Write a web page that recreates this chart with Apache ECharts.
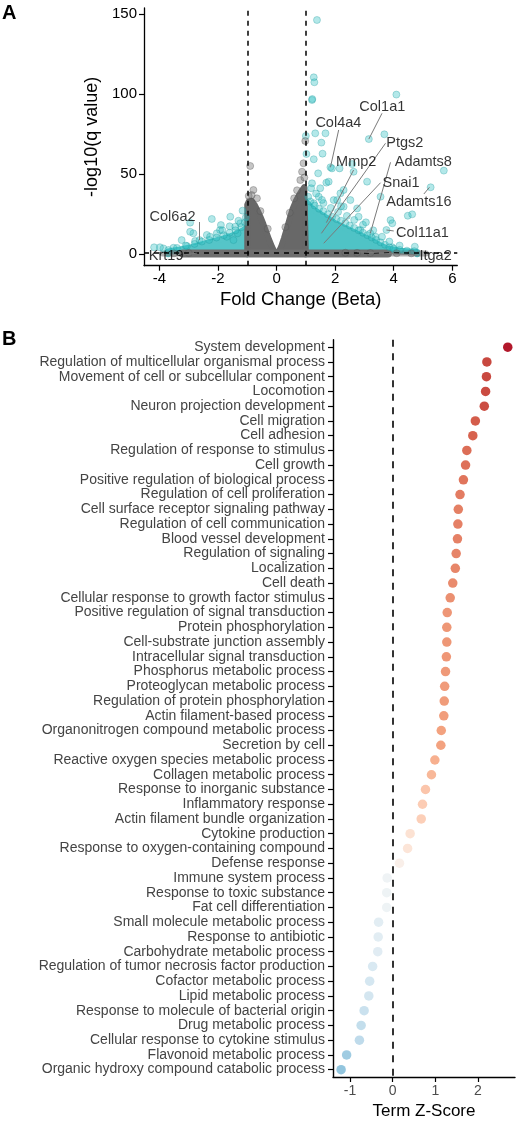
<!DOCTYPE html>
<html><head><meta charset="utf-8">
<script src="https://cdn.jsdelivr.net/npm/echarts@6/dist/echarts.min.js"></script>
<style>html,body{margin:0;padding:0;background:#fff}#c{width:518px;height:1125px}</style>
</head><body><div id="c"></div>
<script>
// ---------- Panel A : volcano ----------
const foldTicks = [-4, -2, 0, 2, 4, 6];
const qTicks = [0, 50, 100, 150];
const qThreshold = 1.3;
const foldThresholds = [-1, 1];

const cyanPoints = [
  [1.38,146.4],[1.27,110.6],[1.29,107.5],[1.21,96.4],[1.22,97.0],[4.09,99.8],[3.15,72],[3.68,75],
  [1.00,74],[1.32,75.6],[1.67,75.6],[1.53,69.8],[1.02,62.7],[1.57,62.9],[1.27,59.4],[1.84,54.4],
  [1.89,53.7],[2.15,53.7],[2.58,56.4],[2.63,51.6],[5.71,52.3],[5.26,41.9],[1.42,50.6],[3.09,45.4],
  [3.55,36],[1.70,44.8],[1.78,45.4],[1.49,41.3],[1.21,44.4],[1.18,41.3],[1.95,33.9],[2.07,33.9],
  [2.18,38.1],[2.29,40.2],[2.52,33.9],[2.75,28.7],[2.29,29.8],[1.44,36],[1.27,31.9],[2.80,23.5],
  [4.48,24.1],[4.63,25],[3.89,21.4],[3.95,19.4],[3.75,15.2],[4.72,4.8],[3.95,4.4],[3.20,13.1],
  [2.86,15.2],[3.38,11],
  [1.08,36],[1.15,33],[1.30,30.5],[1.45,28.5],[1.60,27],[1.75,25],[1.90,23.5],[2.05,22],[2.20,21],
  [2.35,19.5],[2.50,18],[2.65,16.5],[2.80,15],[2.95,13.5],[3.10,12],[3.25,10.5],[3.40,9],[3.55,7.5],
  [3.70,6],[3.85,4.5],[4.00,3.5],[4.20,2.8],[4.45,2.3],[4.70,2.0],[1.35,38],[1.60,32],[1.85,29],
  [2.10,26.5],[2.40,24],[2.65,21.5],[2.95,18.5],[3.30,15],[3.60,11],[3.85,8],[4.20,5.5],[2.20,30],
  [1.55,34],[3.05,20],
  [-2.95,19.8],[-2.21,22.1],[-1.90,18.3],[-1.58,23.5],[-1.16,27.3],[-1.41,17.3],[-2.04,13.1],
  [-2.38,12.1],[-2.84,13.1],[-3.24,8.9],[-3.52,4.1],[-3.86,3.7],[-4.18,4.4],[-1.70,11],[-1.33,13.1],
  [-1.47,8.9],[-3.06,5.2],[-2.95,14.1],[-2.78,8.3],[-1.93,15.2],[-1.24,19.4],[-2.27,11],[-3.98,4.4],
  [-3.69,2.7],[-2.63,8.9],
  [-3.40,4],[-3.10,5.5],[-2.80,6.5],[-2.55,8],[-2.30,9],[-2.05,10.5],[-1.80,12],[-1.60,13.5],
  [-1.40,15],[-1.20,17],[-1.08,20],[-1.05,23],[-1.30,21],[-1.60,17.5],[-1.85,15]
];
const greyPoints = [
  [-0.90,55.2],[-0.79,40.2],[0.92,56.9],[0.98,70.8],[0.87,51.6],[0.81,46.4],[-0.67,35],[-0.85,37],
  [-0.95,36.5],[0.70,40],[0.95,48],[0.60,35],[-0.55,27],[0.45,26],[-0.30,16],[0.30,17],
  [2.35,1.0],[2.75,0.9],[3.20,0.8],[4.10,0.7],[4.60,0.6],[-3.50,0.6],[-3.00,0.8]
];
// dense point clouds, traced outlines
const greyCoreOutline = [
  [-1.0,0],[-1.0,31],[-0.95,33],[-0.85,33.5],[-0.75,31],[-0.65,27.5],[-0.55,23.5],[-0.45,19],
  [-0.35,14],[-0.25,9],[-0.15,4.5],[-0.07,1.5],[0,0.3],[0.07,1.5],[0.15,4.5],[0.25,10],[0.35,16],
  [0.45,22.5],[0.55,28.5],[0.65,33],[0.75,36.5],[0.85,39.5],[0.95,42],[1.0,43],[1.0,0]
];
const cyanRightOutline = [
  [1.0,0],[1.0,33],[1.2,29],[1.6,24],[2.0,19.5],[2.4,16],[2.8,12.5],[3.2,9],[3.5,6],[3.8,3.5],
  [4.2,2.2],[4.8,1.5],[4.8,0]
];
const cyanLeftOutline = [
  [-3.7,0],[-3.7,1.8],[-3.3,3],[-2.9,4.5],[-2.5,6.5],[-2.1,8.5],[-1.7,10.5],[-1.4,12.5],
  [-1.15,15],[-1.0,17],[-1.0,0]
];
const greyBandWide = [[-3.9,0.5],[5.1,0.5]];
const greyBandDense = [[-3.2,0.6],[3.8,0.6]];

const geneNames   = ['Col1a1','Col4a4','Ptgs2','Mmp2','Adamts8','Snai1','Adamts16','Col11a1','Itga2','Col6a2','Krt19'];
const genePoints  = [[3.15,72],[1.84,54.4],[1.53,13.1],[1.70,19.8],[3.20,13.1],[1.61,6.9],[5.22,41.9],[3.75,15.2],[2.75,1.6],[-2.63,8.9],[-2.71,0.8]];
const geneLabelAt = [[3.61,92.2],[2.11,82.2],[4.38,69.8],[2.72,57.9],[5.01,57.5],[4.25,44.75],[4.86,32.7],[4.98,13.1],[5.43,-1.06],[-3.55,23.5],[-3.77,-1.06]];
const geneLineFrom= [[3.60,88.1],[2.12,77.7],[3.72,69.4],[2.63,52.7],[3.89,57.5],[3.55,44.75],[5.03,37.7],[4.00,14.6],[4.80,-0.4],[-2.63,20.2],[-3.16,-0.4]];

// ---------- Panel B : GO terms ----------
const terms = [
  'System development','Regulation of multicellular organismal process','Movement of cell or subcellular component',
  'Locomotion','Neuron projection development','Cell migration','Cell adhesion','Regulation of response to stimulus',
  'Cell growth','Positive regulation of biological process','Regulation of cell proliferation',
  'Cell surface receptor signaling pathway','Regulation of cell communication','Blood vessel development',
  'Regulation of signaling','Localization','Cell death','Cellular response to growth factor stimulus',
  'Positive regulation of signal transduction','Protein phosphorylation','Cell-substrate junction assembly',
  'Intracellular signal transduction','Phosphorus metabolic process','Proteoglycan metabolic process',
  'Regulation of protein phosphorylation','Actin filament-based process','Organonitrogen compound metabolic process',
  'Secretion by cell','Reactive oxygen species metabolic process','Collagen metabolic process',
  'Response to inorganic substance','Inflammatory response','Actin filament bundle organization',
  'Cytokine production','Response to oxygen-containing compound','Defense response','Immune system process',
  'Response to toxic substance','Fat cell differentiation','Small molecule metabolic process',
  'Response to antibiotic','Carbohydrate metabolic process','Regulation of tumor necrosis factor production',
  'Cofactor metabolic process','Lipid metabolic process','Response to molecule of bacterial origin',
  'Drug metabolic process','Cellular response to cytokine stimulus','Flavonoid metabolic process',
  'Organic hydroxy compound catabolic process'
];
const zScores = [
  2.70,2.21,2.20,2.18,2.15,1.94,1.88,1.74,1.71,1.66,1.58,1.54,1.53,1.52,1.49,1.47,1.41,1.35,
  1.28,1.27,1.27,1.26,1.24,1.22,1.21,1.20,1.14,1.13,0.99,0.91,0.77,0.70,0.67,0.41,0.35,0.16,
  -0.13,-0.14,-0.14,-0.33,-0.34,-0.35,-0.47,-0.54,-0.56,-0.67,-0.74,-0.78,-1.08,-1.21
];
const zTicks = [-1, 0, 1, 2];

// ---------- colour scale (RdBu-like, Lab interpolation) ----------
const colourStops = [[-1.21,'#92C5DE'],[-0.6,'#D1E5F0'],[0,'#F7F7F7'],[0.55,'#FDDBC7'],[1.1,'#F4A582'],[1.9,'#D6604D'],[2.7,'#B2182B']];
function hex2rgb(h){h=h.replace('#','');return [0,2,4].map(i=>parseInt(h.substr(i,2),16));}
function s2l(c){c/=255;return c<=0.04045?c/12.92:Math.pow((c+0.055)/1.055,2.4);}
function l2s(c){c=c<=0.0031308?12.92*c:1.055*Math.pow(c,1/2.4)-0.055;return Math.round(Math.max(0,Math.min(1,c))*255);}
function rgb2lab(rgb){const [r,g,b]=rgb.map(s2l);
  const x=(r*0.4124+g*0.3576+b*0.1805)/0.95047,y=r*0.2126+g*0.7152+b*0.0722,z=(r*0.0193+g*0.1192+b*0.9505)/1.08883;
  const f=t=>t>0.008856?Math.cbrt(t):(7.787*t+16/116);const fx=f(x),fy=f(y),fz=f(z);
  return [116*fy-16,500*(fx-fy),200*(fy-fz)];}
function lab2css(L,a,b){const fy=(L+16)/116,fx=a/500+fy,fz=fy-b/200;
  const fi=t=>t*t*t>0.008856?t*t*t:(t-16/116)/7.787;
  const x=fi(fx)*0.95047,y=fi(fy),z=fi(fz)*1.08883;
  const r=x*3.2406-y*1.5372-z*0.4986,g=-x*0.9689+y*1.8758+z*0.0415,bb=x*0.0557-y*0.2040+z*1.0570;
  return 'rgb('+l2s(r)+','+l2s(g)+','+l2s(bb)+')';}
const labStops = colourStops.map(s=>[s[0], rgb2lab(hex2rgb(s[1]))]);
function zColor(v){
  if (v<=labStops[0][0]) { const c=labStops[0][1]; return lab2css(c[0],c[1],c[2]); }
  for (let i=1;i<labStops.length;i++){
    if (v<=labStops[i][0]){
      const [v0,c0]=labStops[i-1],[v1,c1]=labStops[i];const t=(v-v0)/(v1-v0);
      return lab2css(c0[0]+(c1[0]-c0[0])*t,c0[1]+(c1[1]-c0[1])*t,c0[2]+(c1[2]-c0[2])*t);
    }
  }
  const c=labStops[labStops.length-1][1]; return lab2css(c[0],c[1],c[2]);
}

const FF = "'Liberation Sans', Arial, Helvetica, sans-serif";
const dashA = {type:[5,5], color:'#000', width:1.5};
const dashB = {type:[7,6.5], color:'#000', width:1.6};

const chart = echarts.init(document.getElementById('c'), null, {renderer:'canvas'});
chart.setOption({
  animation:false,
  backgroundColor:'#fff',
  textStyle:{fontFamily:FF},
  graphic:[
    {type:'text', left:2, top:3, style:{text:'A', font:"bold 20px "+FF, fill:'#000'}},
    {type:'text', left:2, top:329, style:{text:'B', font:"bold 20px "+FF, fill:'#000'}}
  ],
  grid:[
    {left:144, top:8, width:313.3, height:257.7, containLabel:false},
    {left:333, top:339.8, width:182, height:742.5, containLabel:false}
  ],
  xAxis:[
    {type:'value', gridIndex:0, min:-4.525, max:6.17,
     axisLine:{show:true, onZero:false, lineStyle:{color:'#000', width:1.3}},
     axisTick:{show:true, length:5, customValues:foldTicks, lineStyle:{color:'#000', width:1.2}},
     axisLabel:{customValues:foldTicks, fontSize:15, color:'#000', margin:6, fontFamily:FF},
     splitLine:{show:false},
     name:'Fold Change (Beta)', nameLocation:'middle', nameGap:25,
     nameTextStyle:{fontSize:18.5, color:'#000', fontFamily:FF}},
    {type:'value', gridIndex:1, min:-1.40, max:2.87,
     axisLine:{show:true, onZero:false, lineStyle:{color:'#000', width:1.4}},
     axisTick:{show:true, length:5, customValues:zTicks, lineStyle:{color:'#000', width:1.2}},
     axisLabel:{customValues:zTicks, fontSize:14, color:'#4d4d4d', margin:7, fontFamily:FF},
     splitLine:{show:false},
     name:'Term Z-Score', nameLocation:'middle', nameGap:26,
     nameTextStyle:{fontSize:17, color:'#000', fontFamily:FF}}
  ],
  yAxis:[
    {type:'value', gridIndex:0, min:-7.1, max:153.9,
     axisLine:{show:true, onZero:false, lineStyle:{color:'#000', width:1.3}},
     axisTick:{show:true, length:5, customValues:qTicks, lineStyle:{color:'#000', width:1.2}},
     axisLabel:{customValues:qTicks, fontSize:15, color:'#000', margin:7, fontFamily:FF},
     splitLine:{show:false},
     name:'-log10(q value)', nameLocation:'middle', nameGap:42, nameRotate:90,
     nameTextStyle:{fontSize:18, color:'#000', fontFamily:FF}},
    {type:'category', gridIndex:1, data:terms, inverse:true,
     axisLine:{show:true, onZero:false, lineStyle:{color:'#000', width:1.4}},
     axisTick:{show:true, length:5, alignWithLabel:true, interval:0, lineStyle:{color:'#000', width:1.2}},
     axisLabel:{interval:0, fontSize:14, color:'#444', margin:8, fontFamily:FF},
     splitLine:{show:false}}
  ],
  series:[
    {type:'line', xAxisIndex:0, yAxisIndex:0, data:cyanLeftOutline, symbol:'none', silent:true, z:1,
     lineStyle:{color:'#55c5c8', width:6, join:'round', cap:'round'}, areaStyle:{color:'#55c5c8', opacity:1}},
    {type:'line', xAxisIndex:0, yAxisIndex:0, data:cyanRightOutline, symbol:'none', silent:true, z:1,
     lineStyle:{color:'#4fc3c6', width:6, join:'round', cap:'round'}, areaStyle:{color:'#4fc3c6', opacity:1}},
    {type:'line', xAxisIndex:0, yAxisIndex:0, data:greyCoreOutline, symbol:'none', silent:true, z:2,
     lineStyle:{color:'#686868', width:6, join:'round', cap:'round'}, areaStyle:{color:'#686868', opacity:1}},
    {type:'line', xAxisIndex:0, yAxisIndex:0, data:greyBandWide, symbol:'none', silent:true, z:2,
     lineStyle:{color:'rgba(110,110,110,0.55)', width:6, cap:'round'}},
    {type:'line', xAxisIndex:0, yAxisIndex:0, data:greyBandDense, symbol:'none', silent:true, z:2,
     lineStyle:{color:'#6e6e6e', width:8, cap:'round'}},
    {type:'scatter', xAxisIndex:0, yAxisIndex:0, data:cyanPoints, symbolSize:7, z:3,
     itemStyle:{color:'rgba(45,190,195,0.45)', borderColor:'rgba(25,150,155,0.55)', borderWidth:0.7}},
    {type:'scatter', xAxisIndex:0, yAxisIndex:0, data:greyPoints, symbolSize:7, z:3,
     itemStyle:{color:'rgba(110,110,110,0.5)', borderColor:'rgba(80,80,80,0.6)', borderWidth:0.7}},
    {type:'line', xAxisIndex:0, yAxisIndex:0, data:[], z:5, silent:true,
     markLine:{symbol:'none', silent:true, label:{show:false}, lineStyle:dashA, animation:false,
       data:[{xAxis:foldThresholds[0]},{xAxis:foldThresholds[1]},{yAxis:qThreshold}]}},
    {type:'lines', coordinateSystem:'cartesian2d', xAxisIndex:0, yAxisIndex:0, z:6, silent:true,
     lineStyle:{color:'#7a7a7a', width:1, opacity:1, curveness:0},
     data:geneNames.map((n,i)=>({coords:[geneLineFrom[i], genePoints[i]]}))},
    {type:'scatter', xAxisIndex:0, yAxisIndex:0, z:7, symbolSize:1, silent:true,
     itemStyle:{color:'rgba(0,0,0,0)'},
     label:{show:true, position:'inside', formatter:'{b}', fontSize:14.5, color:'#000', fontFamily:FF},
     data:geneNames.map((n,i)=>({name:n, value:geneLabelAt[i]}))},
    {type:'scatter', xAxisIndex:1, yAxisIndex:1, symbolSize:9.5, z:4,
     data:zScores.map((v,i)=>[v,i]),
     itemStyle:{color:p=>zColor(p.value[0]), opacity:1},
     markLine:{symbol:'none', silent:true, label:{show:false}, lineStyle:dashB, animation:false,
       data:[{xAxis:0}]}}
  ]
});
</script></body></html>
